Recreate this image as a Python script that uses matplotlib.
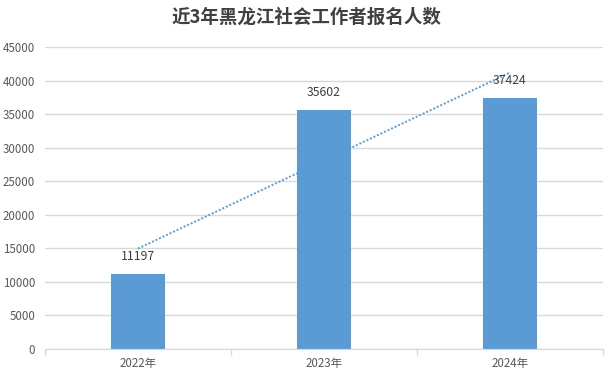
import numpy as np
import matplotlib
matplotlib.use('Agg')
from matplotlib import pyplot as plt

plt.rcParams['font.family'] = ['Noto Sans CJK SC', 'DejaVu Sans']

# data
years = ['2022年', '2023年', '2024年']
applicants = [11197, 35602, 37424]
title = '近3年黑龙江社会工作者报名人数'

bar_color = '#5b9bd5'
grid_color = '#d9d9d9'
text_color = '#595959'

fig = plt.figure(figsize=(6.1, 3.78), dpi=100)
ax = fig.add_axes([45/610, 1-349/378, 558/610, 302/378])

x = np.arange(len(years))
ax.bar(x, applicants, width=0.29, color=bar_color, zorder=2)

# linear trendline (as Excel would add it)
coef = np.polyfit(x + 1, applicants, 1)
ax.plot(x, np.polyval(coef, x + 1), ls=(0, (1, 1)), color=bar_color, lw=1.4, zorder=3)

for xi, v in zip(x, applicants):
    ax.annotate(str(v), (xi, v), xytext=(0, 8), textcoords='offset points',
                ha='center', va='bottom', fontsize=8.8, color='#404040', zorder=4)

ax.set_xlim(-0.5, len(years) - 0.5)
ax.set_ylim(0, 45000)
ax.set_yticks(np.arange(0, 45001, 5000))
ax.yaxis.grid(True, color=grid_color, lw=1)
ax.set_axisbelow(True)
ax.tick_params(axis='y', length=0, labelsize=8.3, labelcolor=text_color, pad=7)

ax.set_xticks(x)
ax.set_xticklabels(years)
ax.set_xticks(np.arange(-0.5, len(years)), minor=True)
ax.tick_params(axis='x', which='major', length=0, labelsize=8.3, labelcolor=text_color, pad=6)
ax.tick_params(axis='x', which='minor', length=4, color=grid_color, width=1)

for s in ['top', 'right', 'left']:
    ax.spines[s].set_visible(False)
ax.spines['bottom'].set_color(grid_color)

fig.text(0.502, 0.955, title, ha='center', va='center', fontsize=13.3,
         fontweight='bold', color='#404040')

fig.savefig('out.png', dpi=100)
